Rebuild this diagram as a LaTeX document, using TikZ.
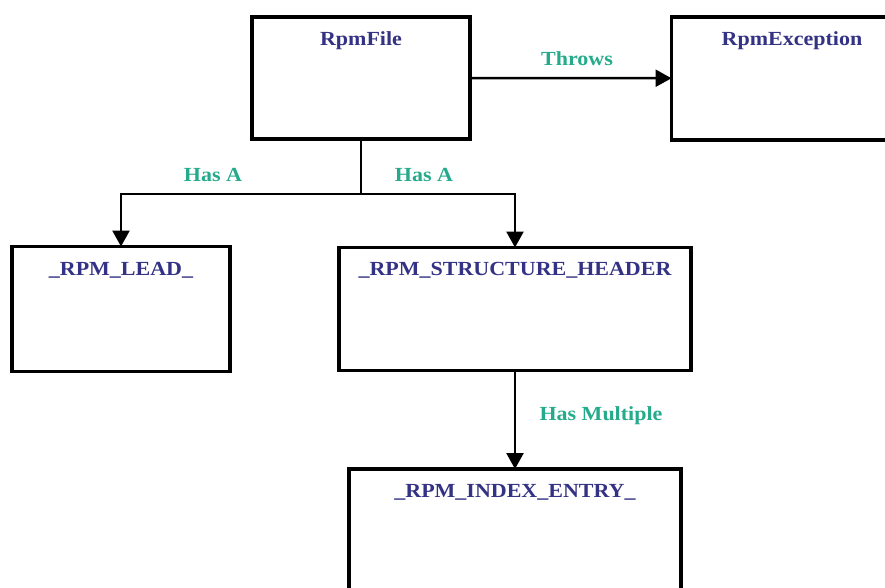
\documentclass[tikz,border=0pt]{standalone}
\usepackage{fontspec}
\setmainfont{Liberation Serif}
\newfontfamily\diagfont[FakeStretch=1.1]{Liberation Serif}
\usetikzlibrary{arrows.meta}
\definecolor{titleblue}{RGB}{52,50,132}
\definecolor{relteal}{RGB}{38,170,140}
\tikzset{
  classbox/.style={draw=black, line width=3.6pt, fill=white, inner sep=0pt, outer sep=0pt},
  classname/.style={anchor=base, inner sep=0pt, text=titleblue, font=\diagfont\bfseries\fontsize{20}{24}\selectfont},
  relname/.style={anchor=base, inner sep=0pt, text=relteal, font=\diagfont\bfseries\fontsize{20}{24}\selectfont},
  link/.style={draw=black, line width=2.5pt},
  arr/.style={link, -{Triangle[length=16pt,width=17pt]}}
}
\begin{document}
\begin{tikzpicture}[x=1pt, y=-1pt]
  \useasboundingbox (0,0) rectangle (885,587);
  \clip (0,0) rectangle (885,587);

  % class boxes
  \node[classbox, minimum width=218pt, minimum height=122pt] (rpmfile) at (361,78) {};
  \node[classbox, minimum width=240pt, minimum height=123pt] (except) at (791.5,78.25) {};
  \node[classbox, minimum width=218pt, minimum height=125pt] (lead) at (121,309) {};
  \node[classbox, minimum width=352pt, minimum height=123pt] (header) at (515,309) {};
  \node[classbox, minimum width=332pt, minimum height=160pt] (entry) at (515,549) {};

  % class names
  \node[classname] (rpmfileT) at (361,45) {RpmFile};
  \node[classname] (exceptT) at (792,45) {RpmException};
  \node[classname] (leadT) at (121,275) {\_RPM\_LEAD\_};
  \node[classname] (headerT) at (515,275) {\_RPM\_STRUCTURE\_HEADER};
  \node[classname] (entryT) at (515,497) {\_RPM\_INDEX\_ENTRY\_};

  % connectors
  \coordinate (split) at (361,194);
  \draw[arr] (rpmfile.east) -- (except.west);
  \draw[link] (rpmfile.south) -- (split);
  \draw[arr] (split) -| (lead.north);
  \draw[arr] (split) -| (header.north);
  \draw[arr] (header.south) -- (entry.north);

  % relation labels
  \node[relname] (throws) at (577,65) {Throws};
  \node[relname] (hasA1) at (213,181) {Has A};
  \node[relname] (hasA2) at (424,181) {Has A};
  \node[relname] (hasMult) at (601,420) {Has Multiple};
\end{tikzpicture}
\end{document}
